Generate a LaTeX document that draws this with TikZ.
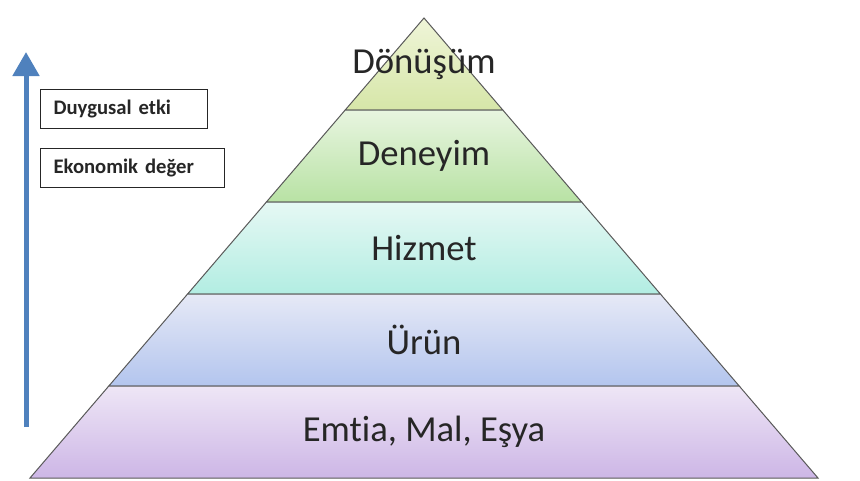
\documentclass[tikz,border=0pt]{standalone}
\usepackage{fontspec}
\setmainfont{Carlito}[Ligatures=NoCommon]
\usetikzlibrary{arrows.meta,positioning,calc}

\definecolor{arrowblue}{RGB}{79,129,189}
\definecolor{dnT}{HTML}{EFF5D8}\definecolor{dnB}{HTML}{D6E6A8}
\definecolor{dyT}{HTML}{E8F5E0}\definecolor{dyB}{HTML}{B8E2A4}
\definecolor{hzT}{HTML}{E6F8F4}\definecolor{hzB}{HTML}{B2EDE2}
\definecolor{urT}{HTML}{E6E9F6}\definecolor{urB}{HTML}{B3C5EE}
\definecolor{emT}{HTML}{EEE6F6}\definecolor{emB}{HTML}{CDB6E6}

\begin{document}
\begin{tikzpicture}[x=0.75pt,y=-0.75pt,
  layer/.style={draw=gray!70!black,line width=0.75pt},
  layertext/.style={font=\fontsize{27.5}{33}\selectfont,text=black!85},
  infobox/.style={draw=black!85,line width=0.9pt,anchor=north west,align=left,
    minimum height=29.25pt,inner xsep=9.75pt,
    font=\bfseries\fontsize{15.5}{18}\selectfont,text=black!85}]
  \useasboundingbox (0,0) rectangle (860,480);

  % ====== Pyramid corners ======
  \coordinate (apex) at (424,18);
  \coordinate (baseL) at (30,478);
  \coordinate (baseR) at (818,478);

  % ====== Layers (bottom colour more saturated) ======
  \foreach \i/\ctop/\cbot/\lbl in {0/dnT/dnB/Dönüşüm,1/dyT/dyB/Deneyim,
      2/hzT/hzB/Hizmet,3/urT/urB/Ürün,4/emT/emB/{Emtia, Mal, Eşya}}{
    \pgfmathsetmacro{\ta}{0.2*\i}
    \pgfmathsetmacro{\tb}{0.2*(\i+1)}
    \pgfmathsetmacro{\ym}{18+460*(\ta+\tb)/2}
    \shade[layer,top color=\ctop,bottom color=\cbot]
      ($(apex)!\ta!(baseL)$) -- ($(apex)!\tb!(baseL)$)
      -- ($(apex)!\tb!(baseR)$) -- ($(apex)!\ta!(baseR)$) -- cycle;
    \node[layertext] (layer\i) at (424,\ym) {\lbl};
  }

  % ====== Value arrow and legend boxes ======
  \coordinate (arrowTail) at (26,427);
  \coordinate (arrowTip) at (26,52);
  \draw[arrowblue,line width=3.75pt,-{Triangle[width=19.5pt,length=18pt]}]
    (arrowTail) -- (arrowTip);
  \node[infobox,text width=105.75pt] (duygusal) at (40,89) {Duygusal etki};
  \node[infobox,text width=118.5pt] (ekonomik) at (40,148) {Ekonomik değer};
\end{tikzpicture}
\end{document}
